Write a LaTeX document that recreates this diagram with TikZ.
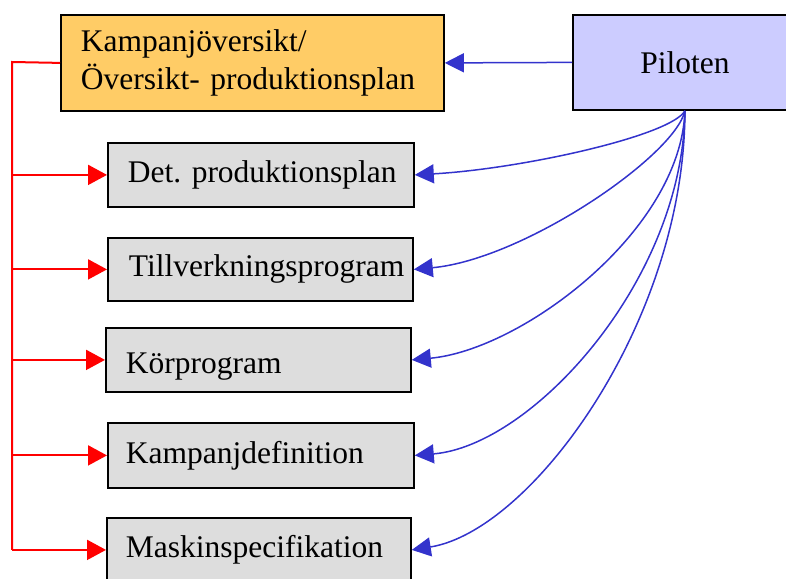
\documentclass[tikz,border=0pt]{standalone}
\usepackage{fontspec}
\setmainfont{Liberation Serif}
\frenchspacing
\usetikzlibrary{arrows.meta}
\definecolor{orangebox}{HTML}{FFCC66}
\definecolor{pilotbox}{HTML}{CCCCFF}
\definecolor{graybox}{HTML}{DDDDDD}
\definecolor{linkblue}{HTML}{3333CC}
\definecolor{linkred}{HTML}{FF0000}
\begin{document}
\begin{tikzpicture}[x=1pt,y=-1pt,
  box/.style={draw=black, line width=1.8pt, anchor=north west,
    inner xsep=0pt, inner ysep=0pt, font=\fontsize{31.5}{38}\selectfont},
  listbox/.style={box, fill=graybox, align=left},
  bluelink/.style={draw=linkblue, line width=1.5pt,
    -{Triangle[length=19pt,width=19pt]}},
  redlink/.style={draw=linkred, line width=2pt},
  redarrow/.style={redlink, -{Triangle[length=19pt,width=20pt]}}]
\useasboundingbox (0,0) rectangle (786,578);
\clip (0,0) rectangle (786,578);

% top row
\node[box, fill=orangebox, align=left, text width=383pt, minimum height=96pt]
  (overview) at (60,14)
  {\hspace*{20pt}Kampanjöversikt/\\\hspace*{20pt}Översikt- produktionsplan};
\node[box, fill=pilotbox, minimum width=224pt, minimum height=95pt]
  (pilot) at (572,14) {Piloten};

% document list
\node[listbox, text width=306pt, minimum height=64pt] (det)  at (107,142)
  {\hspace*{20pt}Det. produktionsplan};
\node[listbox, text width=305pt, minimum height=63pt] (till) at (107,237)
  {\hspace*{21pt}Tillverkningsprogram};
\node[listbox, text width=305pt, minimum height=64pt,
  text height=28pt, text depth=0pt] (kor)  at (105,327)
  {\hspace*{20pt}Körprogram};
\node[listbox, text width=306pt, minimum height=65pt] (kamp) at (107,422)
  {\hspace*{18pt}Kampanjdefinition};
\node[listbox, text width=304pt, minimum height=64pt] (mask) at (106,517)
  {\hspace*{19pt}Maskinspecifikation};

% red distribution bus
\coordinate (bustop) at (12,62);
\draw[redlink] (overview.west) -- (bustop) -- (mask.west -| bustop);
\foreach \n in {det,till,kor,kamp,mask}
  \draw[redarrow] (\n.west -| bustop) -- (\n.west);

% blue links from the pilot
\draw[bluelink] (pilot.west) -- (overview.east);
\draw[bluelink] (pilot.south) .. controls +(-14,25)  and +(107,-6)   .. (det.east);
\draw[bluelink] (pilot.south) .. controls +(-10,45)  and +(110,-10)  .. (till.east);
\draw[bluelink] (pilot.south) .. controls +(-4,120)  and +(110,-10)  .. (kor.east);
\draw[bluelink] (pilot.south) .. controls +(-2,170)  and +(117,-9.5) .. (kamp.east);
\draw[bluelink] (pilot.south) .. controls +(0,210)   and +(120,-19)  .. (mask.east);
\end{tikzpicture}
\end{document}
